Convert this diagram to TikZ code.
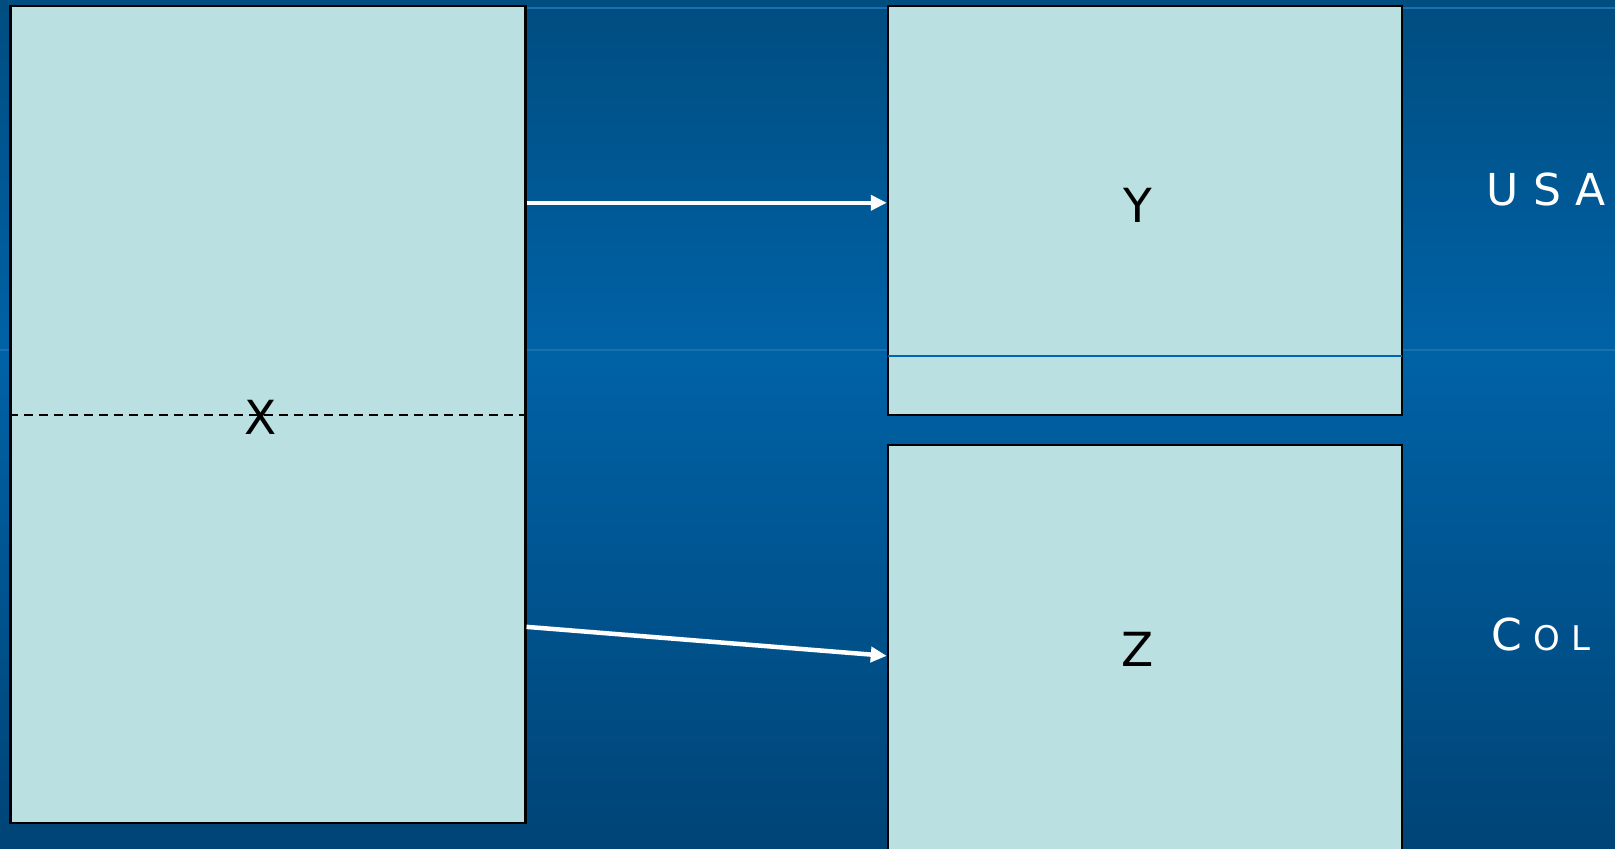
\documentclass[tikz,border=0pt]{standalone}
\usepackage{fontspec}
\usepackage{tikz}
\usepackage{xcolor}
\usetikzlibrary{arrows.meta,calc}
\newfontfamily\slidefont{DejaVu Sans}
\definecolor{slidetop}{RGB}{0,77,128}
\definecolor{slidemid}{RGB}{0,98,166}
\definecolor{slidebot}{RGB}{0,68,118}
\definecolor{slideline}{RGB}{28,112,176}
\definecolor{panelfill}{RGB}{186,224,226}
\definecolor{panelline}{RGB}{0,102,179}

\begin{document}
\begin{tikzpicture}[x=1pt,y=-1pt,
    panel/.style={draw=black, line width=2.5pt, fill=panelfill, inner sep=0pt},
    letter/.style={font=\slidefont\fontsize{47}{56}\selectfont, inner sep=0pt},
    tag/.style={font=\slidefont\fontsize{44}{52}\selectfont, text=white, inner sep=0pt},
    flow/.style={white, line width=4.5pt, -{Triangle[length=16pt,width=15pt]}}]
	% Slide background
	\useasboundingbox (0,0) rectangle (1615,849);
	\clip (0,0) rectangle (1615,849);
	\shade[top color=slidetop, bottom color=slidemid] (0,0) rectangle (1615,352);
	\shade[top color=slidemid, bottom color=slidebot] (0,352) rectangle (1615,849);
	\draw[slideline, line width=1.5pt] (0,350) -- (1615,350);
	\draw[slideline, line width=1.5pt] (525,8) -- (1615,8);
	
	% Panels
	\node[panel, minimum width=515pt, minimum height=817pt] (xbox) at (267.8,414.6) {};
	\node[panel, minimum width=514pt, minimum height=409pt] (ybox) at (1145,210.6) {};
	\node[panel, minimum width=514pt, minimum height=415pt] (zbox) at (1145,652.5) {};
	
	% Split lines inside the panels
	\draw[black, line width=2.2pt, dash pattern=on 9pt off 6pt] (xbox.west) -- (xbox.east);
	\coordinate (ycut) at ($(ybox.north west)!0.853!(ybox.south west)$);
	\draw[panelline, line width=1.5pt, shorten <=1.2pt, shorten >=1.2pt] (ycut) -- (ycut -| ybox.east);
	
	% Panel letters
	\node[letter] (xlab) at (260.6,417.5) {X};
	\node[letter] (ylab) at (1138,205) {Y};
	\node[letter] (zlab) at (1137.5,649.5) {Z};
	
	% Country tags
	\node[tag] (usa) at (1546,189) {U\kern14pt S\kern14pt A};
	\node[tag] (col) at (1541,634.5) {C\kern11pt{\fontsize{34}{40}\selectfont O\kern11pt L}};
	
	% Arrows
	\coordinate (yin) at ($(ybox.north west)!0.481!(ybox.south west)$);
	\draw[flow] (xbox.east |- yin) -- (yin);
	\coordinate (xout) at ($(xbox.north east)!0.759!(xbox.south east)$);
	\coordinate (zin) at ($(zbox.north west)!0.508!(zbox.south west)$);
	\draw[flow] (xout) -- (zin);
\end{tikzpicture}
\end{document}
